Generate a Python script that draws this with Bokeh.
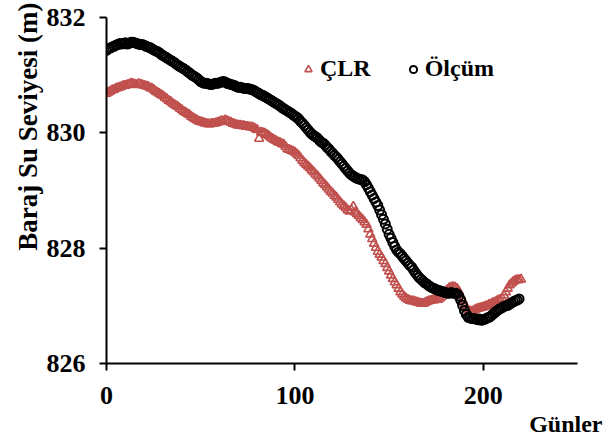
from bokeh.plotting import figure
from bokeh.models import Range1d, FixedTicker, Legend, LegendItem, Title
from bokeh.embed import file_html
from bokeh.resources import INLINE

# ---- data (one value per day) ----
olcum = [
    831.43, 831.46, 831.47, 831.49, 831.50, 831.52, 831.53, 831.55, 831.54, 831.55,
    831.56, 831.54, 831.55, 831.57, 831.57, 831.56, 831.55, 831.54, 831.53, 831.53,
    831.52, 831.50, 831.49, 831.48, 831.46, 831.44, 831.42, 831.41, 831.39, 831.36,
    831.34, 831.32, 831.30, 831.28, 831.26, 831.24, 831.22, 831.19, 831.17, 831.15,
    831.13, 831.11, 831.09, 831.06, 831.04, 831.01, 830.99, 830.97, 830.95, 830.92,
    830.89, 830.87, 830.86, 830.86, 830.85, 830.84, 830.84, 830.85, 830.86, 830.86,
    830.87, 830.88, 830.89, 830.88, 830.86, 830.85, 830.84, 830.83, 830.82, 830.80,
    830.79, 830.79, 830.78, 830.77, 830.77, 830.77, 830.76, 830.75, 830.74, 830.72,
    830.70, 830.68, 830.66, 830.65, 830.63, 830.61, 830.59, 830.57, 830.55, 830.53,
    830.51, 830.49, 830.47, 830.44, 830.42, 830.40, 830.38, 830.36, 830.34, 830.31,
    830.29, 830.27, 830.24, 830.20, 830.17, 830.13, 830.09, 830.05, 830.01, 829.98,
    829.95, 829.93, 829.91, 829.87, 829.84, 829.82, 829.79, 829.75, 829.72, 829.68,
    829.65, 829.61, 829.58, 829.54, 829.50, 829.46, 829.42, 829.38, 829.34, 829.30,
    829.27, 829.25, 829.23, 829.21, 829.20, 829.19, 829.18, 829.15, 829.10, 829.04,
    828.98, 828.92, 828.86, 828.80, 828.74, 828.66, 828.58, 828.50, 828.42, 828.33,
    828.24, 828.17, 828.10, 828.03, 827.97, 827.93, 827.90, 827.86, 827.82, 827.78,
    827.74, 827.70, 827.67, 827.62, 827.57, 827.53, 827.49, 827.46, 827.43, 827.40,
    827.38, 827.35, 827.33, 827.31, 827.30, 827.28, 827.27, 827.26, 827.25, 827.24,
    827.23, 827.22, 827.22, 827.23, 827.22, 827.22, 827.21, 827.17, 827.10, 827.01,
    826.92, 826.85, 826.80, 826.79, 826.78, 826.78, 826.77, 826.76, 826.77, 826.75,
    826.76, 826.77, 826.79, 826.80, 826.82, 826.85, 826.88, 826.91, 826.93, 826.95,
    826.97, 826.99, 827.00, 827.01, 827.03, 827.05, 827.07, 827.09, 827.10, 827.12,
]

clr = [
    830.68, 830.70, 830.72, 830.74, 830.75, 830.77, 830.78, 830.79, 830.80, 830.82,
    830.82, 830.83, 830.84, 830.86, 830.85, 830.84, 830.83, 830.85, 830.84, 830.83,
    830.82, 830.81, 830.80, 830.78, 830.77, 830.75, 830.72, 830.70, 830.68, 830.66,
    830.64, 830.61, 830.59, 830.56, 830.54, 830.51, 830.49, 830.47, 830.45, 830.42,
    830.40, 830.37, 830.35, 830.33, 830.31, 830.28, 830.26, 830.24, 830.22, 830.20,
    830.19, 830.18, 830.17, 830.16, 830.15, 830.15, 830.16, 830.16, 830.17, 830.18,
    830.19, 830.21, 830.20, 830.22, 830.21, 830.19, 830.18, 830.16, 830.15, 830.14,
    830.13, 830.13, 830.12, 830.12, 830.11, 830.11, 830.10, 830.10, 830.09, 830.07,
    830.05, 829.90, 830.01, 830.00, 829.99, 829.97, 829.95, 829.92, 829.90, 829.88,
    829.86, 829.84, 829.83, 829.81, 829.80, 829.76, 829.72, 829.71, 829.69, 829.68,
    829.66, 829.63, 829.60, 829.56, 829.52, 829.48, 829.45, 829.42, 829.39, 829.35,
    829.32, 829.28, 829.25, 829.21, 829.17, 829.13, 829.10, 829.06, 829.02, 828.98,
    828.95, 828.91, 828.88, 828.84, 828.80, 828.76, 828.73, 828.70, 828.66, 828.64,
    828.66, 828.72, 828.62, 828.59, 828.56, 828.52, 828.49, 828.45, 828.41, 828.33,
    828.24, 828.16, 828.08, 828.01, 827.94, 827.89, 827.84, 827.78, 827.73, 827.66,
    827.60, 827.53, 827.47, 827.41, 827.36, 827.30, 827.24, 827.20, 827.16, 827.13,
    827.11, 827.09, 827.08, 827.08, 827.07, 827.06, 827.05, 827.04, 827.04, 827.05,
    827.07, 827.08, 827.09, 827.10, 827.10, 827.11, 827.11, 827.13, 827.16, 827.20,
    827.25, 827.28, 827.31, 827.32, 827.33, 827.32, 827.30, 827.25, 827.18, 827.10,
    827.02, 826.96, 826.92, 826.91, 826.90, 826.92, 826.94, 826.95, 826.96, 826.97,
    826.98, 826.99, 827.00, 827.02, 827.03, 827.05, 827.06, 827.08, 827.10, 827.11,
    827.13, 827.18, 827.24, 827.30, 827.36, 827.39, 827.42, 827.44, 827.45, 827.45,
    827.46,
]

days_olcum = list(range(len(olcum)))
days_clr = list(range(len(clr)))

x_ticks = [0, 100, 200]
y_ticks = [826, 828, 830, 832]
series_names = ["ÇLR", "Ölçüm"]
x_title = "Günler"
y_title = "Baraj Su Seviyesi (m)"

FONT = "Liberation Serif"
RED = "#C0504D"

p = figure(width=614, height=444, output_backend="svg", toolbar_location=None,
           x_range=Range1d(0, 250), y_range=Range1d(826, 832),
           min_border_left=106, min_border_right=37, min_border_top=17, min_border_bottom=81)
p.outline_line_color = None
p.grid.visible = False
p.background_fill_color = "white"
p.border_fill_color = "white"

for ax in (p.xaxis[0], p.yaxis[0]):
    ax.axis_line_width = 2
    ax.axis_line_color = "black"
    ax.major_tick_line_width = 2
    ax.major_tick_line_color = "black"
    ax.major_tick_out = 7
    ax.major_tick_in = 0
    ax.minor_tick_line_color = None
    ax.major_label_text_font = FONT
    ax.major_label_text_font_style = "bold"
    ax.major_label_text_font_size = "26px"
    ax.major_label_text_color = "black"

p.xaxis[0].ticker = FixedTicker(ticks=x_ticks)
p.yaxis[0].ticker = FixedTicker(ticks=y_ticks)
p.xaxis[0].major_label_standoff = 16
p.yaxis[0].major_label_standoff = 14

r_clr = p.scatter(days_clr, clr, marker="triangle", size=9, line_color=RED,
                  fill_color=None, line_width=1.6)
r_olc = p.scatter(days_olcum, olcum, marker="circle", size=9, line_color="black",
                  fill_color=None, line_width=2)

legend = Legend(items=[LegendItem(label=series_names[0], renderers=[r_clr]),
                       LegendItem(label=series_names[1], renderers=[r_olc])],
                orientation="horizontal", location=(193, 281),
                border_line_color=None, background_fill_alpha=0,
                padding=0, margin=0, spacing=33,
                glyph_width=18, glyph_height=18, label_standoff=3, label_height=24,
                label_text_font=FONT, label_text_font_style="bold",
                label_text_font_size="24px", label_text_color="black")
p.add_layout(legend, "center")

p.add_layout(Title(text=y_title, align="right", offset=-15, standoff=2,
                   text_font=FONT, text_font_style="bold", text_font_size="27px",
                   text_color="black"), "left")
p.add_layout(Title(text=x_title, align="right", offset=-25, standoff=4,
                   text_font=FONT, text_font_style="bold", text_font_size="24px",
                   text_color="black"), "below")

open("out.html", "w").write(file_html(p, INLINE))
